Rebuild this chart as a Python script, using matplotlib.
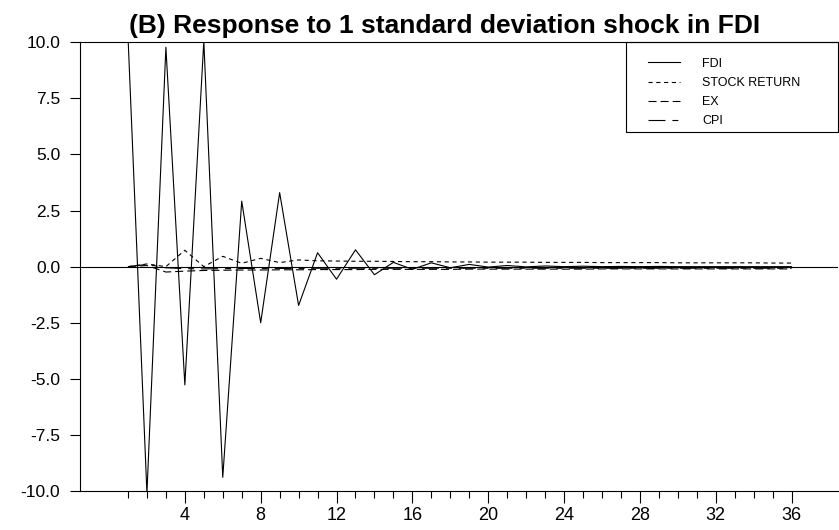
import matplotlib
matplotlib.use("Agg")
import matplotlib.pyplot as plt
import matplotlib.patches as patches
import matplotlib.ticker as ticker
import numpy as np

plt.rcParams['font.family'] = ['Liberation Sans', 'DejaVu Sans']
plt.rcParams['axes.unicode_minus'] = False
plt.rcParams['lines.scale_dashes'] = False

# impulse responses, periods 1..36
periods = list(range(1, 37))
fdi = [10.3, -10.1, 9.78, -5.27, 10.05, -9.39, 2.92, -2.50, 3.30, -1.73,
       0.62, -0.56, 0.75, -0.36, 0.19, -0.12, 0.17, -0.05, 0.10, -0.02,
       0.05, -0.01, 0.03, 0.00, 0.02, 0.00, 0.01, 0.00, 0.01, 0.00,
       0.00, 0.00, 0.00, 0.00, 0.00, 0.00]
stockReturn = [0.00, 0.12, 0.00, 0.73, 0.00, 0.46, 0.15, 0.37, 0.18, 0.30,
               0.26, 0.25, 0.24, 0.24, 0.23, 0.22, 0.22, 0.21, 0.21, 0.20,
               0.20, 0.20, 0.19, 0.19, 0.19, 0.18, 0.18, 0.18, 0.18, 0.17,
               0.17, 0.17, 0.17, 0.17, 0.16, 0.16]
ex = [0.00, 0.05, -0.24, -0.20, -0.17, -0.16, -0.15, -0.15, -0.14, -0.14,
      -0.13, -0.13, -0.13, -0.12, -0.12, -0.12, -0.12, -0.12, -0.11, -0.11,
      -0.11, -0.11, -0.11, -0.11, -0.11, -0.10, -0.10, -0.10, -0.10, -0.10,
      -0.10, -0.10, -0.10, -0.10, -0.10, -0.10]
cpi = [0.00, 0.10, -0.05, -0.09, -0.10, -0.09, -0.08, -0.08, -0.08, -0.08,
       -0.07, -0.07, -0.07, -0.07, -0.07, -0.07, -0.07, -0.07, -0.07, -0.07,
       -0.07, -0.07, -0.07, -0.07, -0.07, -0.07, -0.07, -0.07, -0.07, -0.07,
       -0.07, -0.07, -0.07, -0.07, -0.07, -0.07]

yTicks = [10.0, 7.5, 5.0, 2.5, 0.0, -2.5, -5.0, -7.5, -10.0]
xMajor = [4, 8, 12, 16, 20, 24, 28, 32, 36]

fig = plt.figure(figsize=(8.39, 5.30), dpi=100)
ax = fig.add_axes([80 / 839, 39 / 530, 758 / 839, 448.7 / 530])

lw = 0.8
ax.plot(periods, fdi, color='black', linewidth=lw, label="FDI")
ax.plot(periods, stockReturn, color='black', linewidth=lw, linestyle=(0, (3.0, 2.6)), label="STOCK RETURN")
ax.plot(periods, ex, color='black', linewidth=lw, linestyle=(0, (5.8, 2.9)), label="EX")
ax.plot(periods, cpi, color='black', linewidth=lw, linestyle=(0, (12.2, 5.0, 4.3, 5.0)), label="CPI")
ax.axhline(0, color='black', linewidth=lw)

ax.set_xlim(-1.53, 38.45)
ax.set_ylim(-10.0, 10.0)

ax.yaxis.set_major_locator(ticker.FixedLocator(yTicks))
ax.yaxis.set_major_formatter(ticker.FormatStrFormatter('%.1f'))
ax.xaxis.set_major_locator(ticker.FixedLocator(xMajor))
ax.xaxis.set_minor_locator(ticker.FixedLocator(periods))
ax.tick_params(axis='y', direction='out', length=7.2, width=0.8, pad=7, labelsize=12.5)
ax.tick_params(axis='x', which='major', direction='out', length=8.6, width=0.8, pad=3, labelsize=13)
ax.tick_params(axis='x', which='minor', direction='out', length=4.8, width=0.8)

for side in ['left', 'bottom', 'top']:
    ax.spines[side].set_linewidth(0.8)
ax.spines['right'].set_visible(False)

ax.text(0.481, 1.020, "(B) Response to 1 standard deviation shock in FDI", fontsize=19,
        fontweight='bold', ha='center', va='baseline', transform=ax.transAxes)

# legend box sharing the top spine
box = patches.Rectangle((0.7207, 0.800), 0.2793, 0.200, transform=ax.transAxes,
                        fill=False, edgecolor='black', linewidth=0.8, clip_on=False)
ax.add_patch(box)
ax.legend(loc='upper left', bbox_to_anchor=(0.7414, 0.9795), frameon=False, fontsize=9,
          borderpad=0, handlelength=2.56, handletextpad=1.76, labelspacing=0.58)

fig.savefig("out.png", dpi=100)
